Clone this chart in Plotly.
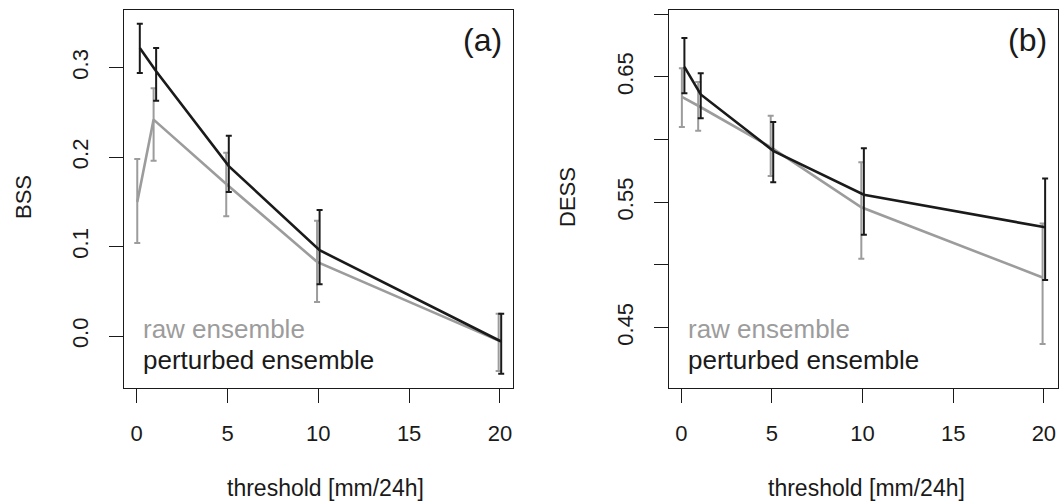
import plotly.graph_objects as go

# ---------------- data ----------------
thresholds = [0.1, 1, 5, 10, 20]

bss_raw = [0.150, 0.242, 0.170, 0.083, -0.005]
bss_raw_lo = [0.104, 0.196, 0.134, 0.038, -0.039]
bss_raw_hi = [0.198, 0.277, 0.205, 0.129, 0.025]
bss_pert = [0.322, 0.296, 0.190, 0.096, -0.006]
bss_pert_lo = [0.294, 0.263, 0.161, 0.058, -0.042]
bss_pert_hi = [0.349, 0.322, 0.224, 0.141, 0.025]

dess_raw = [0.634, 0.627, 0.594, 0.546, 0.490]
dess_raw_lo = [0.610, 0.607, 0.571, 0.505, 0.437]
dess_raw_hi = [0.657, 0.646, 0.619, 0.582, 0.533]
dess_pert = [0.658, 0.636, 0.591, 0.556, 0.530]
dess_pert_lo = [0.637, 0.617, 0.566, 0.524, 0.488]
dess_pert_hi = [0.681, 0.653, 0.614, 0.593, 0.569]

x_ticks = [0, 5, 10, 15, 20]
bss_ticks = [0.0, 0.1, 0.2, 0.3]
bss_ticktext = ["0.0", "0.1", "0.2", "0.3"]
dess_ticks = [0.45, 0.50, 0.55, 0.60, 0.65, 0.70]
dess_ticktext = ["0.45", "", "0.55", "", "0.65", ""]

# ---------------- style ----------------
W, H = 1059, 502
GREY = "#9c9c9c"
BLACK = "#1a1a1a"
FONT = "Liberation Sans, Arial, Helvetica, sans-serif"
DODGE = 0.07

def px_x(p):
    return p / W

def px_y(p):
    return 1 - p / H

fig = go.Figure()

def add_series(xaxis, yaxis, y, lo, hi, color, shift):
    xs = [t + shift for t in thresholds]
    fig.add_trace(go.Scatter(
        x=xs, y=y, mode="lines", xaxis=xaxis, yaxis=yaxis,
        line=dict(color=color, width=2.6),
        error_y=dict(type="data", symmetric=False,
                     array=[h - v for h, v in zip(hi, y)],
                     arrayminus=[v - l for v, l in zip(y, lo)],
                     color=color, thickness=2, width=3),
        showlegend=False, hoverinfo="skip"))

add_series("x", "y", bss_raw, bss_raw_lo, bss_raw_hi, GREY, -DODGE)
add_series("x", "y", bss_pert, bss_pert_lo, bss_pert_hi, BLACK, DODGE)
add_series("x2", "y2", dess_raw, dess_raw_lo, dess_raw_hi, GREY, -DODGE)
add_series("x2", "y2", dess_pert, dess_pert_lo, dess_pert_hi, BLACK, DODGE)

axis_common = dict(showline=True, mirror=True, linecolor=BLACK, linewidth=1,
                   ticks="outside", ticklen=14, tickcolor=BLACK, tickwidth=1,
                   showgrid=False, zeroline=False,
                   tickfont=dict(family=FONT, size=22, color=BLACK))

ydom = [px_y(388), px_y(10)]

fig.update_layout(
    width=W, height=H,
    margin=dict(l=0, r=0, t=0, b=0),
    paper_bgcolor="white", plot_bgcolor="white",
    xaxis=dict(domain=[px_x(124), px_x(513)], range=[-0.70, 20.72], anchor="y",
               tickvals=x_ticks, ticklabelstandoff=12, **axis_common),
    yaxis=dict(domain=ydom, range=[-0.058, 0.3645], anchor="x",
               tickvals=bss_ticks, ticktext=bss_ticktext, tickangle=-90,
               ticklabelstandoff=12, **axis_common),
    xaxis2=dict(domain=[px_x(669), px_x(1058)], range=[-0.68, 20.78], anchor="y2",
                tickvals=x_ticks, ticklabelstandoff=12, **axis_common),
    yaxis2=dict(domain=ydom, range=[0.4018, 0.7034], anchor="x2",
                tickvals=dess_ticks, ticktext=dess_ticktext, tickangle=-90,
                ticklabelstandoff=12, **axis_common),
)

annotations = [
    # axis titles
    dict(text="threshold [mm/24h]", x=px_x(325), y=px_y(488), size=23),
    dict(text="threshold [mm/24h]", x=px_x(866), y=px_y(488), size=23),
    dict(text="BSS", x=px_x(23), y=px_y(197), textangle=-90, size=22),
    dict(text="DESS", x=px_x(567), y=px_y(197), textangle=-90, size=22),
]
out = []
for a in annotations:
    s = a.pop("size")
    a.update(xref="paper", yref="paper", showarrow=False,
             xanchor="center", yanchor="middle",
             font=dict(family=FONT, size=s, color=BLACK))
    out.append(a)

# panel labels
for lab, xr in [("(a)", 504), ("(b)", 1049)]:
    out.append(dict(text=lab, xref="paper", yref="paper", x=px_x(xr), y=px_y(40),
                    xanchor="right", yanchor="middle", showarrow=False,
                    font=dict(family=FONT, size=32, color=BLACK)))

# legend texts
for xl in [141, 686]:
    out.append(dict(text="raw ensemble", xref="paper", yref="paper",
                    x=px_x(xl), y=px_y(329), xanchor="left", yanchor="middle",
                    showarrow=False, font=dict(family=FONT, size=26, color=GREY)))
    out.append(dict(text="perturbed ensemble", xref="paper", yref="paper",
                    x=px_x(xl), y=px_y(360), xanchor="left", yanchor="middle",
                    showarrow=False, font=dict(family=FONT, size=26, color=BLACK)))

fig.update_layout(annotations=out)

fig.write_html(
    "out.html",
    config={"displayModeBar": False},
    post_script="document.body.style.margin='0px';document.body.style.overflow='hidden';",
)
